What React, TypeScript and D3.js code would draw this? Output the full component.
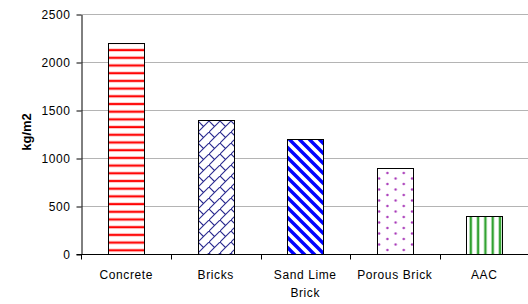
import React, { useEffect, useRef } from 'react'
import * as d3 from 'd3'

const categories = ['Concrete', 'Bricks', 'Sand Lime Brick', 'Porous Brick', 'AAC']
const categoryLines = [['Concrete'], ['Bricks'], ['Sand Lime', 'Brick'], ['Porous Brick'], ['AAC']]
const weights = [2200, 1400, 1200, 900, 400]
const yTicks = [0, 500, 1000, 1500, 2000, 2500]
const patternIds = ['pHoriz', 'pBricks', 'pDiag', 'pDots', 'pVert']

function addPatterns(defs: any) {
  // horizontal red lines
  const h = defs.append('pattern').attr('id', 'pHoriz').attr('patternUnits', 'userSpaceOnUse')
    .attr('width', 8).attr('height', 7.7)
  h.append('rect').attr('width', 8).attr('height', 7.7).attr('fill', '#fff')
  h.append('rect').attr('y', 2.3).attr('width', 8).attr('height', 3.2).attr('fill', '#ffb0b0')
  h.append('rect').attr('y', 3).attr('width', 8).attr('height', 1.8).attr('fill', '#f00')

  // diagonal bricks, navy
  const b = defs.append('pattern').attr('id', 'pBricks').attr('patternUnits', 'userSpaceOnUse')
    .attr('width', 11).attr('height', 11)
  b.append('rect').attr('width', 11).attr('height', 11).attr('fill', '#fff')
  b.append('path').attr('d', 'M-1,12 L12,-1 M0,0 L5.5,5.5')
    .attr('stroke', '#2a2a90').attr('stroke-width', 1.1).attr('fill', 'none')

  // wide downward diagonal, blue
  const d = defs.append('pattern').attr('id', 'pDiag').attr('patternUnits', 'userSpaceOnUse')
    .attr('width', 10).attr('height', 10)
  d.append('rect').attr('width', 10).attr('height', 10).attr('fill', '#fff')
  d.append('path').attr('d', 'M-2,-2 L12,12 M-7,3 L3,13 M7,-3 L17,7')
    .attr('stroke', '#0000ff').attr('stroke-width', 3.4)

  // dots, purple
  const p = defs.append('pattern').attr('id', 'pDots').attr('patternUnits', 'userSpaceOnUse')
    .attr('width', 16.4).attr('height', 11)
  p.append('rect').attr('width', 16.4).attr('height', 11).attr('fill', '#fff')
  p.append('circle').attr('cx', 2).attr('cy', 2.5).attr('r', 1.2).attr('fill', '#a838b8')
  p.append('circle').attr('cx', 10.2).attr('cy', 8).attr('r', 1.2).attr('fill', '#a838b8')

  // vertical green lines
  const v = defs.append('pattern').attr('id', 'pVert').attr('patternUnits', 'userSpaceOnUse')
    .attr('width', 7.3).attr('height', 8)
  v.append('rect').attr('width', 7.3).attr('height', 8).attr('fill', '#fff')
  v.append('rect').attr('x', 2).attr('width', 3.2).attr('height', 8).attr('fill', '#a8dca8')
  v.append('rect').attr('x', 2.7).attr('width', 1.8).attr('height', 8).attr('fill', '#2ea02e')
}

function drawChart(el: SVGSVGElement) {
  const svg = d3.select(el)
  svg.selectAll('*').remove()
  const left = 81.5, right = 529, top = 14, bottom = 254
  const font = 'Liberation Sans, Arial, sans-serif'

  addPatterns(svg.append('defs'))

  const x = d3.scaleBand().domain(categories).range([left, right])
  const y = d3.scaleLinear().domain([0, 2500]).range([bottom, top])

  // gridlines
  svg.append('g').selectAll('line').data(yTicks.filter(t => t > 0)).join('line')
    .attr('x1', left).attr('x2', right)
    .attr('y1', t => Math.round(y(t)) + 0.5).attr('y2', t => Math.round(y(t)) + 0.5)
    .attr('stroke', '#b4b4b4').attr('stroke-width', 1)

  // bars
  const bw = x.bandwidth() * 0.4
  svg.append('g').selectAll('rect').data(weights).join('rect')
    .attr('x', (d, i) => Math.round(x(categories[i])! + (x.bandwidth() - bw) / 2) + 0.5)
    .attr('width', Math.round(bw))
    .attr('y', d => Math.round(y(d)) + 0.5)
    .attr('height', d => Math.round(bottom - y(d)))
    .attr('fill', (d, i) => 'url(#' + patternIds[i] + ')')
    .attr('stroke', '#000').attr('stroke-width', 1)

  // y axis
  const ya = svg.append('g').attr('transform', 'translate(' + left + ',0.5)')
    .call(d3.axisLeft(y).tickValues(yTicks).tickFormat(d3.format('d')).tickSize(5).tickPadding(6).tickSizeOuter(0))
  ya.select('.domain').attr('stroke', '#000')
  ya.selectAll('text').attr('font-family', font).attr('font-size', 12)
    .attr('letter-spacing', 0.6).attr('fill', '#000').attr('dy', '0.36em')

  // x axis
  const xa = svg.append('g').attr('transform', 'translate(0,' + (bottom + 0.5) + ')')
  xa.append('line').attr('x1', left - 5).attr('x2', right).attr('stroke', '#000')
  xa.selectAll('line.tick').data(categories.slice(1)).join('line').attr('class', 'tick')
    .attr('x1', d => Math.round(x(d)!) + 0.5).attr('x2', d => Math.round(x(d)!) + 0.5)
    .attr('y1', 0).attr('y2', 5).attr('stroke', '#000')
  xa.append('line').attr('x1', left).attr('x2', left).attr('y1', 0).attr('y2', 5).attr('stroke', '#000')

  const labels = svg.append('g').selectAll('text').data(categoryLines).join('text')
    .attr('font-family', font).attr('font-size', 12).attr('letter-spacing', 0.6)
    .attr('text-anchor', 'middle')
    .attr('x', (d, i) => x(categories[i])! + x.bandwidth() / 2)
    .attr('y', 279)
  labels.selectAll('tspan').data(d => d).join('tspan')
    .attr('x', function () { return (this as any).parentNode.getAttribute('x') })
    .attr('dy', (d, i) => (i === 0 ? 0 : 18))
    .text(d => d)

  svg.append('text').attr('transform', 'translate(31,132) rotate(-90)')
    .attr('text-anchor', 'middle').attr('font-family', font).attr('font-weight', 'bold')
    .attr('font-size', 13).text('kg/m2')
}

const App = () => {
  const ref = useRef<SVGSVGElement>(null)
  useEffect(() => {
    if (ref.current) drawChart(ref.current)
  }, [])
  return (
    <svg ref={ref} width={528} height={304}
      style={{ position: 'absolute', left: 0, top: 0, background: '#fff' }} />
  )
}

export default App
